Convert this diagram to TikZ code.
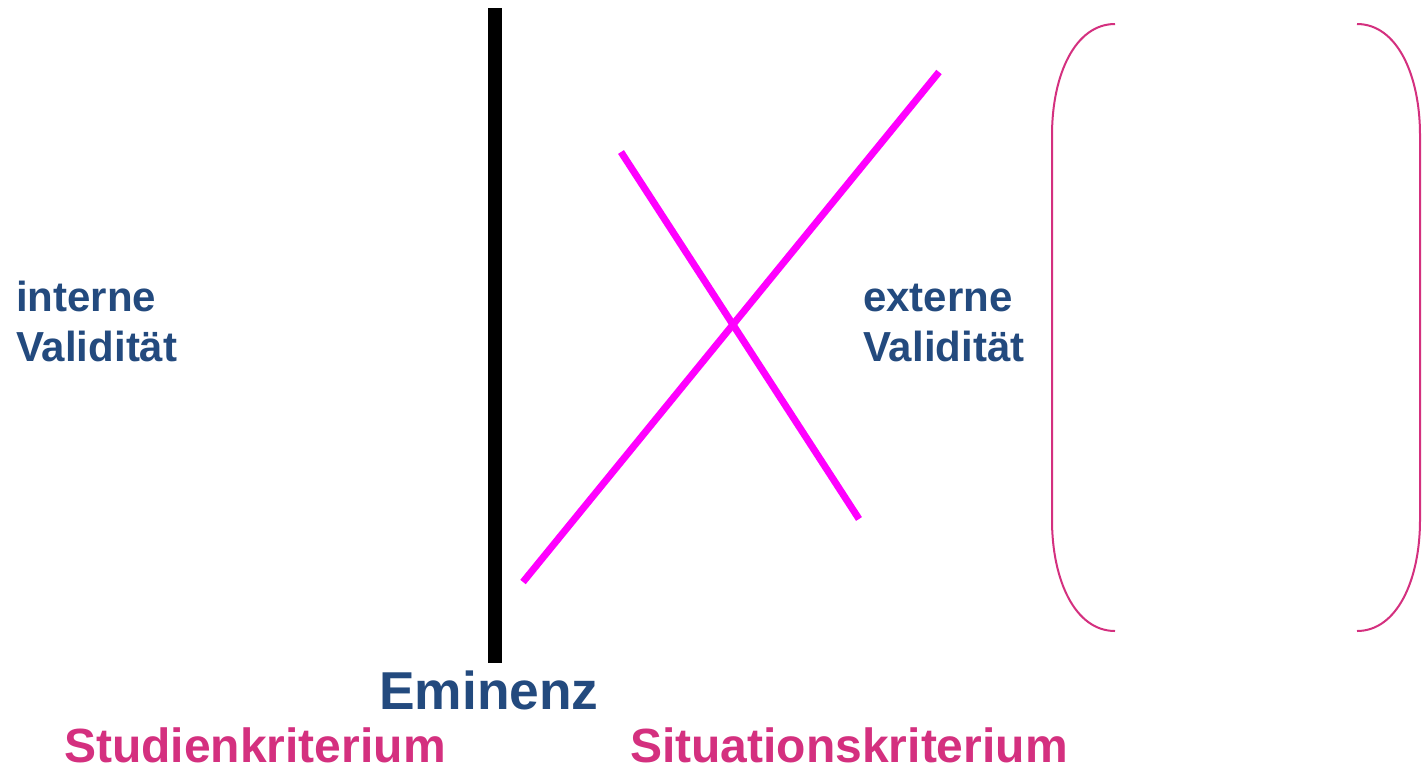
\documentclass[tikz,border=0pt]{standalone}
\usepackage{fontspec}
\setmainfont{Liberation Sans}
\definecolor{darkblue}{HTML}{234A7E}
\definecolor{rosepink}{HTML}{D4307F}
\definecolor{brightmag}{HTML}{FF00FF}
\begin{document}
\begin{tikzpicture}[x=0.75pt,y=-0.75pt,
  bluelabel/.style={inner sep=0pt,anchor=base west,text=darkblue,align=left,
     font=\bfseries\fontsize{31.5}{37.5}\selectfont},
  pinklabel/.style={inner sep=0pt,anchor=base west,text=rosepink,
     font=\bfseries\fontsize{36}{43}\selectfont},
  magline/.style={draw=brightmag,line width=5.25pt},
  bracketline/.style={draw=rosepink,line width=1.5pt}]
\useasboundingbox[fill=white] (0,0) rectangle (1427,772);
% black vertical bar
\coordinate (barTop) at (494.5,8);
\coordinate (barBot) at (494.5,663);
\draw[line width=10.5pt,black] (barTop) -- (barBot);
% magenta cross
\coordinate (m1a) at (523,582);
\coordinate (m1b) at (939,72);
\coordinate (m2a) at (621,152);
\coordinate (m2b) at (859,519);
\draw[magline] (m1a) -- (m1b);
\draw[magline] (m2a) -- (m2b);
% bracket pair
\draw[bracketline] (1115,24) .. controls (1075,24) and (1052,75) .. (1052,135)
   -- (1052,520) .. controls (1052,580) and (1075,631) .. (1115,631);
\draw[bracketline] (1357,24) .. controls (1397,24) and (1420,75) .. (1420,135)
   -- (1420,520) .. controls (1420,580) and (1397,631) .. (1357,631);
% labels
\node[bluelabel] (intern) at (16,361) {interne\\Validität};
\node[bluelabel] (extern) at (863,361) {externe\\Validität};
\node[bluelabel,font=\bfseries\fontsize{40}{48}\selectfont] (eminenz) at (379,709) {Eminenz};
\node[pinklabel] (studien) at (64,762) {Studienkriterium};
\node[pinklabel] (situation) at (630,762) {Situationskriterium};
\end{tikzpicture}
\end{document}
